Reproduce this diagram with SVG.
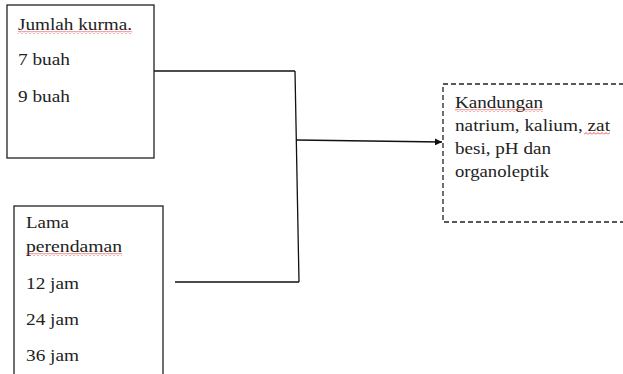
<svg xmlns="http://www.w3.org/2000/svg" width="623" height="374" viewBox="0 0 623 374">
  <defs>
    <style>
      .box { fill: #ffffff; stroke: #222; stroke-width: 1.3; }
      .dash { fill: #ffffff; stroke: #222; stroke-width: 1.3; stroke-dasharray: 5 3; }
      .t { font-family: "Liberation Serif", "Times New Roman", serif; font-size: 16px; fill: #222; }
      .line { fill: none; stroke: #111; stroke-width: 1.3; }
    </style>
    <marker id="arrow" viewBox="0 0 10 10" refX="10" refY="5" markerWidth="7" markerHeight="7" markerUnits="userSpaceOnUse" orient="auto">
      <path d="M0,0 L10,5 L0,10 Z" fill="#111"/>
    </marker>
    <pattern id="squiggle" x="0" y="0" width="4" height="3" patternUnits="userSpaceOnUse">
      <path d="M0,2.5 L2,0.5 L4,2.5" fill="none" stroke="#e02020" stroke-width="0.8"/>
    </pattern>
  </defs>

  <g id="connectors">
    <path class="line" d="M154,71 L295,71"/>
    <path class="line" d="M295,71 L299,282"/>
    <path class="line" d="M175,282 L299,282"/>
    <path class="line" d="M296,140 L442,142" marker-end="url(#arrow)"/>
  </g>

  <g id="node-jumlah-kurma">
    <rect class="box" x="7" y="5" width="147" height="153"/>
    <text class="t" x="18" y="30" textLength="114" lengthAdjust="spacingAndGlyphs">Jumlah kurma.</text>
    <rect x="18" y="31" width="114" height="3" fill="url(#squiggle)"/>
    <text class="t" x="18" y="65" textLength="52" lengthAdjust="spacingAndGlyphs">7 buah</text>
    <text class="t" x="18" y="102" textLength="52" lengthAdjust="spacingAndGlyphs">9 buah</text>
  </g>

  <g id="node-lama-perendaman">
    <rect class="box" x="14" y="206" width="149" height="180"/>
    <text class="t" x="26" y="228" textLength="43" lengthAdjust="spacingAndGlyphs">Lama</text>
    <text class="t" x="26" y="252" textLength="96" lengthAdjust="spacingAndGlyphs">perendaman</text>
    <rect x="26" y="253" width="96" height="3" fill="url(#squiggle)"/>
    <text class="t" x="26" y="289" textLength="53" lengthAdjust="spacingAndGlyphs">12 jam</text>
    <text class="t" x="26" y="325" textLength="53" lengthAdjust="spacingAndGlyphs">24 jam</text>
    <text class="t" x="26" y="361" textLength="53" lengthAdjust="spacingAndGlyphs">36 jam</text>
  </g>

  <g id="node-kandungan">
    <rect class="dash" x="443" y="84" width="190" height="138"/>
    <text class="t" x="455" y="108" textLength="88" lengthAdjust="spacingAndGlyphs">Kandungan</text>
    <rect x="455" y="109" width="88" height="3" fill="url(#squiggle)"/>
    <text class="t" x="455" y="131" textLength="155" lengthAdjust="spacingAndGlyphs">natrium, kalium, zat</text>
    <rect x="584" y="132" width="26" height="3" fill="url(#squiggle)"/>
    <text class="t" x="455" y="154" textLength="96" lengthAdjust="spacingAndGlyphs">besi, pH dan</text>
    <text class="t" x="455" y="177" textLength="94" lengthAdjust="spacingAndGlyphs">organoleptik</text>
  </g>
</svg>
